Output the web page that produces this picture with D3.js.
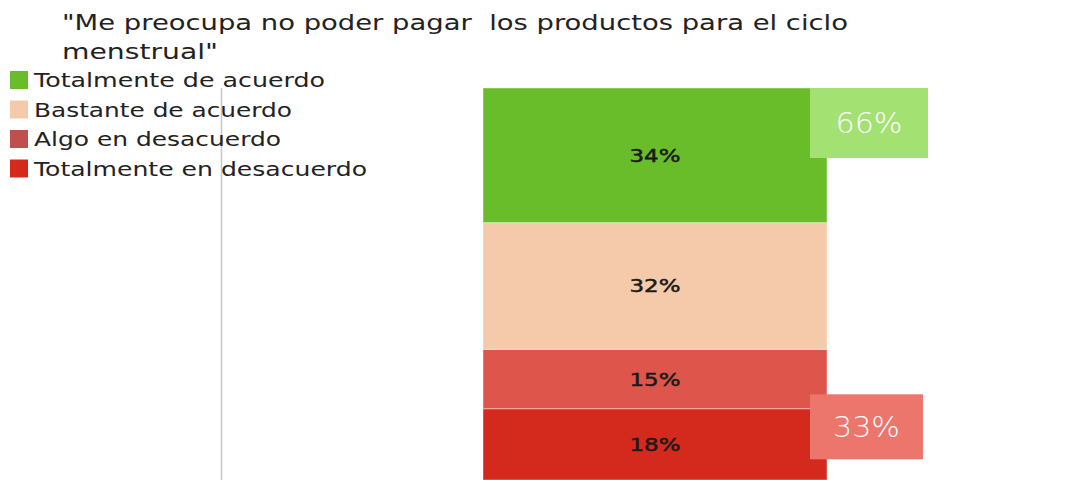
<!DOCTYPE html>
<html><head><meta charset="utf-8">
<script src="https://cdn.jsdelivr.net/npm/d3@7"></script>
<style>body{margin:0;background:#fff}svg{display:block}text{white-space:pre}</style>
</head><body><svg id="c" width="1078" height="480"></svg>
<script>
const titleLines = ['"Me preocupa no poder pagar  los productos para el ciclo', 'menstrual"'];
const titleWidths = [786, 156];
const categories = ["Totalmente de acuerdo","Bastante de acuerdo","Algo en desacuerdo","Totalmente en desacuerdo"];
const legendWidths = [291, 258, 247, 333];
const values = [34, 32, 15, 18];
const colors = ["#6abd2a","#f5caab","#de554b","#d42a1e"];
const legendColors = ["#6abd2a","#f5caab","#c0504d","#d42a1e"];
const groupLabels = ["66%","33%"];
const groupValues = [66, 33];
const groupColors = ["#a3e173","#ec756c"];

const svg = d3.select("#c");
const font = "DejaVu Sans, sans-serif";

svg.append("g").selectAll("text").data(titleLines).join("text")
  .attr("x",62).attr("y",(d,i)=>30+i*29).attr("font-family",font).attr("font-size",21).attr("fill","#222")
  .attr("textLength",(d,i)=>titleWidths[i]).attr("lengthAdjust","spacingAndGlyphs").text(d=>d);

// stacked from bottom
const order = [3,2,1,0];
const total = d3.sum(values);
const y = d3.scaleLinear().domain([0,total]).range([480,88]);
const x = d3.scaleBand().domain(["q"]).range([483,827]).padding(0);

svg.append("line").attr("x1",221.5).attr("x2",221.5).attr("y1",88).attr("y2",480).attr("stroke","#c8c8c8").attr("stroke-width",1.5);

let acc = 0;
const segs = order.map(i=>{const s={i,v:values[i],y0:acc,y1:acc+values[i]};acc+=values[i];return s;});
const g = svg.append("g");
g.selectAll("rect").data(segs).join("rect")
  .attr("x",x("q")).attr("width",x.bandwidth())
  .attr("y",d=>y(d.y1)).attr("height",d=>y(d.y0)-y(d.y1))
  .attr("fill",d=>colors[d.i]).attr("stroke","#fff").attr("stroke-opacity",0.4).attr("stroke-width",1);
g.selectAll("text").data(segs).join("text")
  .attr("x",x("q")+x.bandwidth()/2).attr("y",d=>(y(d.y0)+y(d.y1))/2)
  .attr("dy","0.36em").attr("text-anchor","middle").attr("font-family",font).attr("font-size",18)
  .attr("textLength",51).attr("lengthAdjust","spacingAndGlyphs")
  .attr("fill","#1a1a1a").attr("stroke","#1a1a1a").attr("stroke-width",0.5).text(d=>d.v+"%");

// callouts
const boxes = [
  {label:groupLabels[0], color:groupColors[0], x:810, w:118, top:y(total), h:70},
  {label:groupLabels[1], color:groupColors[1], x:810, w:113, top:y(groupValues[1])+45, h:65}
];
const bg = svg.append("g");
bg.selectAll("rect").data(boxes).join("rect").attr("x",d=>d.x).attr("y",d=>d.top).attr("width",d=>d.w).attr("height",d=>d.h).attr("fill",d=>d.color);
bg.selectAll("text").data(boxes).join("text").attr("x",d=>d.x+d.w/2).attr("y",d=>d.top+d.h/2).attr("dy","0.35em")
  .attr("text-anchor","middle").attr("font-family",font).attr("font-size",29).attr("font-weight",300)
  .attr("textLength",67).attr("lengthAdjust","spacingAndGlyphs").attr("fill","#fff").text(d=>d.label);

// legend
const lg = svg.append("g");
const items = lg.selectAll("g").data(categories).join("g").attr("transform",(d,i)=>`translate(10,${71+i*29.5})`);
items.append("rect").attr("width",18).attr("height",18).attr("fill",(d,i)=>legendColors[i]);
items.append("text").attr("x",24).attr("y",9).attr("dy","0.36em").attr("font-family",font).attr("font-size",20).attr("fill","#222")
  .attr("textLength",(d,i)=>legendWidths[i]).attr("lengthAdjust","spacingAndGlyphs").text(d=>d);
</script></body></html>
